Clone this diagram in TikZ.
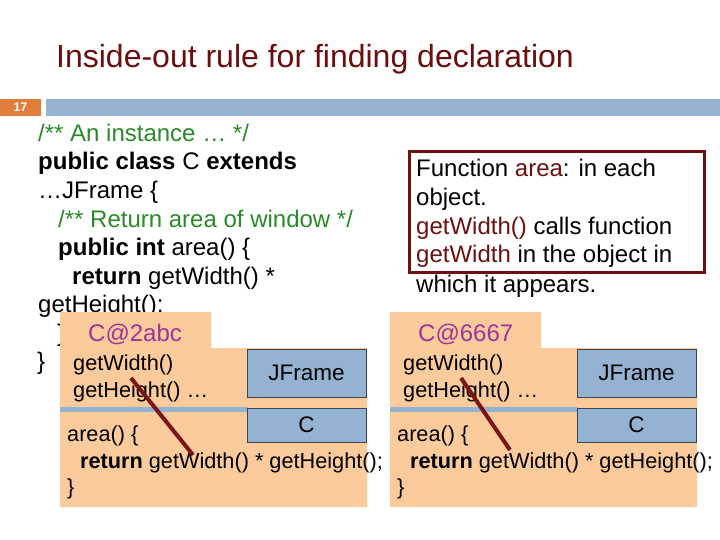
\documentclass[tikz,border=0pt]{standalone}
\usepackage{fontspec}
\setmainfont{Liberation Sans}
\definecolor{titlered}{HTML}{6B0E0E}
\definecolor{cgreen}{HTML}{2A8A2A}
\definecolor{numorange}{HTML}{E07E3C}
\definecolor{barblue}{HTML}{94B4D1}
\definecolor{peach}{HTML}{FBCB9B}
\definecolor{boxblue}{HTML}{94B3D3}
\definecolor{linered}{HTML}{7A1515}
\definecolor{objpurple}{HTML}{A0329A}
\definecolor{boxborder}{HTML}{3C4650}
\definecolor{notered}{HTML}{6E1010}
\tikzset{
  codeline/.style={anchor=base west, inner sep=0pt, font=\fontsize{24}{28}\selectfont},
  objline/.style={anchor=base west, inner sep=0pt, font=\fontsize{21.7}{26}\selectfont},
  objname/.style={anchor=base west, inner sep=0pt, text=objpurple, font=\fontsize{24}{28}\selectfont},
  bluebox/.style={draw=boxborder, line width=0.8pt, fill=boxblue, minimum width=119pt, minimum height=48pt, inner sep=0pt, font=\fontsize{22.5}{26}\selectfont},
  cbox/.style={bluebox, minimum height=34pt},
  redline/.style={draw=linered, line width=4pt},
  sepline/.style={draw=boxblue, line width=5pt},
  objbody/.style={fill=peach, draw=none}
}
\begin{document}
\begin{tikzpicture}[x=1pt,y=-1pt]
\useasboundingbox (0,0) rectangle (720,540);
\fill[white] (0,0) rectangle (720,540);
% title
\node[anchor=base west, inner sep=0pt, text=titlered, font=\fontsize{32}{36}\selectfont] (title) at (56,68) {Inside-out rule for finding declaration};
% header bar
\fill[numorange] (0,99) rectangle (41,116);
\node[inner sep=0pt, text=white, font=\fontsize{12.5}{14}\bfseries] (num) at (20.5,107.5) {17};
\fill[barblue] (46,99) rectangle (720,116);
% left code
\node[codeline, text=cgreen] (l1) at (38,141.5) {/** An instance … */};
\node[codeline] (l2) at (38,170) {\textbf{public class} C \textbf{extends}};
\node[codeline] (l3) at (38,198.5) {…JFrame \{};
\node[codeline, text=cgreen] (l4) at (58,227) {/** Return area of window */};
\node[codeline] (l5) at (58,255.5) {\textbf{public int} area() \{};
\node[codeline] (l6) at (72,284) {\textbf{return} getWidth() *};
\node[codeline] (l7) at (38,312.5) {getHeight();};
\node[codeline] (l8) at (57,341) {\}};
\node[codeline] (l9) at (37,369.5) {\}};
% note box
\node[draw=notered, line width=3pt, minimum width=295pt, minimum height=121pt, anchor=north west, inner sep=0pt] (note) at (408,150) {};
\node[codeline] (n1) at (416,177) {Function \textcolor{notered}{area}: in each};
\node[codeline] (n2) at (416,205.5) {object.};
\node[codeline] (n3) at (416,234) {\textcolor{notered}{getWidth()} calls function};
\node[codeline] (n4) at (416,262.5) {\textcolor{notered}{getWidth} in the object in};
\node[codeline] (n5) at (416,292) {which it appears.};
% object 1
\path[objbody] (60,312) -- (211,312) -- (211,348) -- (367,348) -- (367,507) -- (60,507) -- cycle;
\draw[sepline] (60,409) -- (248,409);
\node[bluebox] (jf1) at (306.5,373) {JFrame};
\node[cbox] (c1) at (306.5,425) {C};
\node[objname] (o1) at (88,341) {C@2abc};
\node[objline] (g1) at (73,370.5) {getWidth()};
\node[objline] (h1) at (73,397) {getHeight() …};
\node[objline] (a1) at (67,441.5) {area() \{};
\node[objline] (r1) at (80,468) {\textbf{return} getWidth() * getHeight();};
\node[objline] (b1) at (67,494) {\}};
\coordinate (s1) at (131,378);
\coordinate (e1) at (193,455);
\draw[redline] (s1) -- (e1);
% object 2
\path[objbody] (390,312) -- (541,312) -- (541,348) -- (697,348) -- (697,507) -- (390,507) -- cycle;
\draw[sepline] (390,409) -- (578,409);
\node[bluebox] (jf2) at (636.5,373) {JFrame};
\node[cbox] (c2) at (636.5,425) {C};
\node[objname] (o2) at (418,341) {C@6667};
\node[objline] (g2) at (403,370.5) {getWidth()};
\node[objline] (h2) at (403,397) {getHeight() …};
\node[objline] (a2) at (397,441.5) {area() \{};
\node[objline] (r2) at (410,468) {\textbf{return} getWidth() * getHeight();};
\node[objline] (b2) at (397,494) {\}};
\coordinate (s2) at (461,378);
\coordinate (e2) at (510,450);
\draw[redline] (s2) -- (e2);
\end{tikzpicture}
\end{document}
